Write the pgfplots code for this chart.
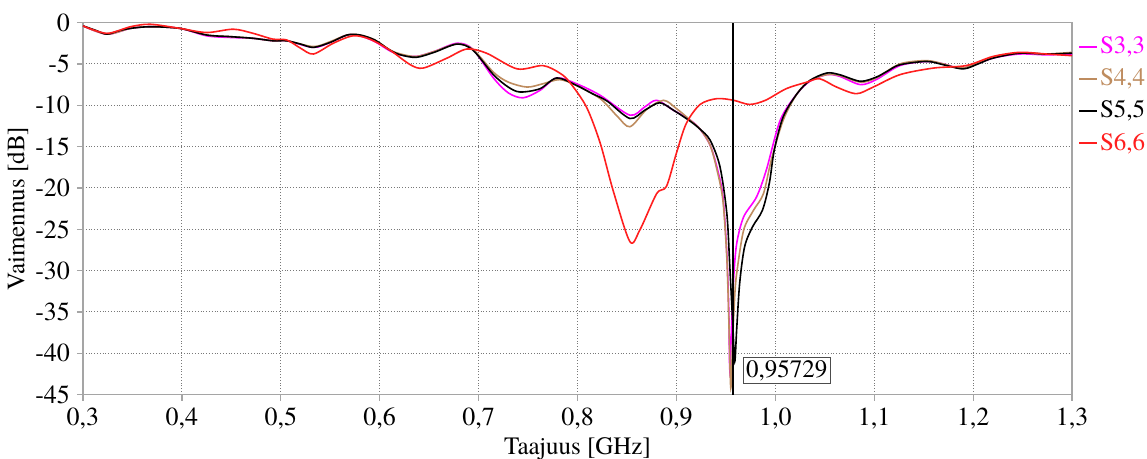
\documentclass[border=0pt]{standalone}
\usepackage{fontspec}
\setmainfont{texgyretermes}[Extension=.otf, UprightFont=*-regular, BoldFont=*-bold, ItalicFont=*-italic, BoldItalicFont=*-bolditalic]
\usepackage{pgfplots}
\pgfplotsset{compat=1.18}

\definecolor{smag}{RGB}{255,0,255}
\definecolor{sbrown}{RGB}{190,140,95}
\definecolor{sred}{RGB}{255,30,30}
\definecolor{gridgray}{RGB}{120,120,120}
\definecolor{axgray}{RGB}{165,165,165}

\begin{document}
\begin{tikzpicture}
\begin{axis}[
    scale only axis,
    width=494.5pt, height=186pt,
    xmin=0.3, xmax=1.3, ymin=-45, ymax=0,
    xtick={0.3,0.4,0.5,0.6,0.7,0.8,0.9,1.0,1.1,1.2,1.3},
    ytick={-45,-40,-35,-30,-25,-20,-15,-10,-5,0},
    xticklabel style={/pgf/number format/.cd, use comma, fixed, fixed zerofill, precision=1},
    /pgf/number format/assume math mode=true,
    ticklabel style={font=\fontsize{13}{15}\selectfont},
    label style={font=\fontsize{12.5}{14}\selectfont},
    xlabel={Taajuus [GHz]},
    ylabel={Vaimennus [dB]},
    xlabel style={at={(axis description cs:0.5,0)}, anchor=north, yshift=-18pt},
    ylabel style={at={(axis description cs:-0.066,0.5)}, anchor=center},
    grid=major,
    major grid style={gridgray, densely dotted, line width=0.55pt},
    axis line style={axgray, line width=0.8pt},
    tick style={axgray, line width=0.6pt},
    tick align=outside,
    major tick length=3pt,
    xtick pos=bottom, ytick pos=left,
    legend style={at={(axis description cs:1,1)}, anchor=north west,
        xshift=3pt, yshift=-6pt, draw=none, fill=none, inner sep=0pt,
        font=\fontsize{12.5}{14}\selectfont, row sep=4pt,
        nodes={inner sep=1pt}},
    legend cell align=left,
    legend image code/.code={\draw[#1] (0pt,0pt) -- (9pt,0pt);},
    every axis plot/.append style={line width=0.8pt, smooth, tension=0.5},
]
\coordinate (o) at (rel axis cs:0,0);

% S3,3
\addplot[smag] coordinates {
(0.300,-0.4) (0.324,-1.4) (0.348,-0.7) (0.368,-0.5) (0.398,-0.7)
(0.425,-1.6) (0.449,-1.8) (0.472,-1.9) (0.492,-2.2) (0.506,-2.2)
(0.533,-3.0) (0.550,-2.4) (0.567,-1.5) (0.580,-1.6) (0.595,-2.3)
(0.610,-3.4) (0.621,-3.9) (0.637,-4.1) (0.655,-3.5) (0.678,-2.5)
(0.694,-3.2) (0.715,-6.7) (0.730,-8.5) (0.745,-9.1) (0.762,-8.2)
(0.779,-6.7) (0.799,-7.4) (0.823,-8.8) (0.853,-11.2) (0.868,-10.2)
(0.880,-9.4) (0.897,-10.6) (0.914,-11.8) (0.924,-12.9) (0.934,-14.8)
(0.941,-17.5) (0.947,-21.0) (0.951,-28.0) (0.953,-35.0) (0.954,-42.0)
(0.956,-36.0) (0.958,-30.7) (0.961,-26.7) (0.968,-23.5) (0.981,-21.1)
(0.991,-17.8) (1.005,-11.8) (1.022,-8.6) (1.035,-7.1) (1.052,-6.3)
(1.065,-6.5) (1.086,-7.5) (1.102,-6.9) (1.126,-5.2) (1.153,-4.7)
(1.170,-5.0) (1.190,-5.5) (1.220,-4.3) (1.247,-3.8) (1.274,-3.9)
(1.300,-3.8)
};
\addlegendentry{\textcolor{smag}{S3,3}}

% S4,4
\addplot[sbrown] coordinates {
(0.300,-0.4) (0.324,-1.4) (0.348,-0.7) (0.368,-0.5) (0.398,-0.7)
(0.425,-1.5) (0.449,-1.7) (0.472,-1.9) (0.492,-2.2) (0.506,-2.2)
(0.533,-2.9) (0.550,-2.3) (0.567,-1.5) (0.580,-1.5) (0.595,-2.1)
(0.610,-3.3) (0.621,-3.8) (0.637,-4.1) (0.655,-3.5) (0.678,-2.6)
(0.694,-3.2) (0.715,-6.0) (0.730,-7.2) (0.749,-7.8) (0.765,-7.4)
(0.782,-6.9) (0.799,-7.6) (0.823,-9.2) (0.840,-11.3) (0.853,-12.6)
(0.870,-10.5) (0.887,-9.4) (0.900,-10.4) (0.914,-11.8) (0.924,-12.9)
(0.934,-14.8) (0.941,-17.8) (0.947,-21.5) (0.951,-28.5) (0.953,-36.0)
(0.955,-44.2) (0.957,-38.0) (0.959,-33.0) (0.961,-30.3) (0.968,-25.1)
(0.978,-22.7) (0.988,-20.7) (0.996,-16.6) (1.008,-11.8) (1.022,-8.6)
(1.035,-7.0) (1.052,-6.3) (1.065,-6.4) (1.086,-7.2) (1.102,-6.7)
(1.126,-5.0) (1.153,-4.6) (1.170,-5.0) (1.190,-5.5) (1.220,-4.2)
(1.247,-3.7) (1.274,-3.8) (1.300,-3.6)
};
\addlegendentry{\textcolor{sbrown}{S4,4}}

% S5,5
\addplot[black] coordinates {
(0.300,-0.4) (0.312,-0.9) (0.324,-1.4) (0.336,-1.0) (0.348,-0.7)
(0.368,-0.5) (0.398,-0.7) (0.425,-1.5) (0.449,-1.7) (0.472,-1.9)
(0.492,-2.2) (0.506,-2.2) (0.520,-2.6) (0.533,-3.0) (0.550,-2.4)
(0.567,-1.5) (0.580,-1.5) (0.595,-2.1) (0.610,-3.3) (0.621,-3.9)
(0.637,-4.2) (0.655,-3.6) (0.678,-2.6) (0.694,-3.3) (0.715,-6.3)
(0.730,-7.8) (0.742,-8.4) (0.762,-8.0) (0.779,-6.7) (0.799,-7.6)
(0.815,-8.6) (0.830,-9.5) (0.853,-11.6) (0.868,-10.6) (0.883,-9.7)
(0.897,-10.6) (0.910,-11.6) (0.917,-12.2) (0.924,-12.9) (0.934,-14.2)
(0.944,-17.4) (0.951,-23.1) (0.954,-29.5) (0.957,-36.5) (0.959,-41.0)
(0.961,-37.0) (0.964,-31.5) (0.969,-27.1) (0.977,-24.7) (0.987,-22.7)
(0.994,-19.4) (0.999,-15.4) (1.008,-11.4) (1.022,-8.6) (1.035,-7.0)
(1.052,-6.1) (1.065,-6.3) (1.086,-7.1) (1.102,-6.6) (1.113,-5.9)
(1.126,-5.1) (1.153,-4.7) (1.170,-5.1) (1.190,-5.6) (1.205,-5.0)
(1.220,-4.3) (1.247,-3.7) (1.274,-3.8) (1.300,-3.7)
};
\addlegendentry{\textcolor{black}{S5,5}}

% S6,6
\addplot[sred] coordinates {
(0.300,-0.4) (0.324,-1.3) (0.348,-0.5) (0.368,-0.2) (0.398,-0.7)
(0.425,-1.2) (0.452,-0.8) (0.472,-1.3) (0.492,-2.0) (0.506,-2.1)
(0.520,-3.1) (0.533,-3.8) (0.553,-2.5) (0.573,-1.6) (0.590,-2.0)
(0.610,-3.3) (0.631,-5.1) (0.644,-5.5) (0.668,-4.3) (0.688,-3.2)
(0.708,-3.7) (0.739,-5.6) (0.765,-5.2) (0.782,-6.1) (0.792,-7.2)
(0.809,-10.2) (0.823,-14.6) (0.836,-20.3) (0.853,-26.5) (0.863,-25.1)
(0.880,-20.7) (0.890,-19.8) (0.900,-15.8) (0.910,-12.2) (0.924,-9.9)
(0.941,-9.2) (0.958,-9.4) (0.974,-9.9) (0.990,-9.4) (1.011,-8.0)
(1.032,-7.2) (1.045,-6.8) (1.062,-7.8) (1.082,-8.6) (1.099,-7.8)
(1.126,-6.3) (1.160,-5.5) (1.193,-5.2) (1.220,-4.1) (1.247,-3.6)
(1.274,-3.8) (1.300,-4.0)
};
\addlegendentry{\textcolor{sred}{S6,6}}

% marker line
\addplot[black, line width=0.6pt, smooth=false] coordinates {(0.95729,-45) (0.95729,0)};
\node[draw=black!70, fill=white, inner sep=1.5pt, anchor=south west,
      font=\fontsize{12.5}{14}\selectfont, xshift=4.8pt, yshift=5.2pt]
      at (axis cs:0.95729,-45) {0,95729};
\end{axis}
\pgfresetboundingbox
\path (o) ++(-41.5pt,-32.2pt) rectangle ++(573.5pt,229.5pt);
\end{tikzpicture}
\end{document}
